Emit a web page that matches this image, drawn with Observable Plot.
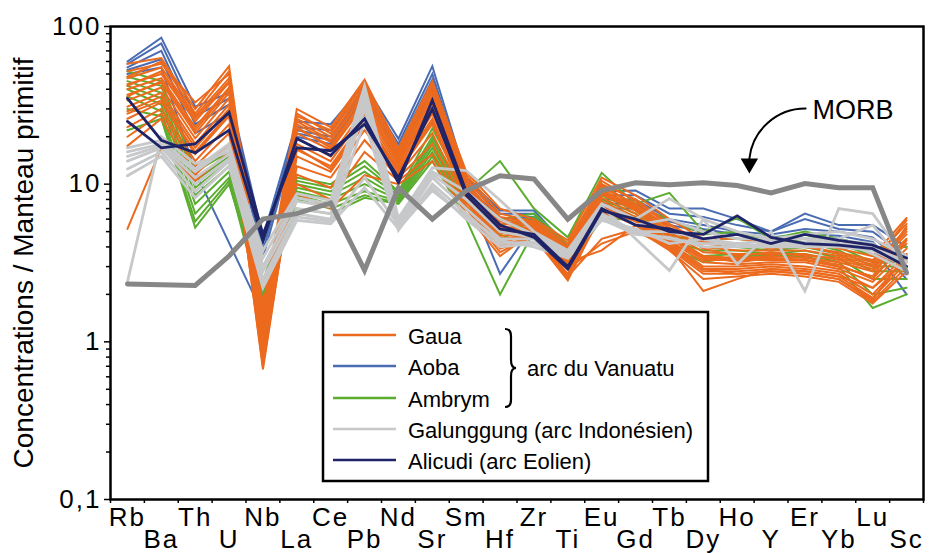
<!DOCTYPE html>
<html>
<head>
<meta charset="utf-8">
<script src="https://cdn.jsdelivr.net/npm/d3@7"></script>
<script src="https://cdn.jsdelivr.net/npm/@observablehq/plot@0.6"></script>
<style>
  body { margin: 0; background: #fff; font-family: "Liberation Sans", Arial, sans-serif; }
  #wrap { position: relative; width: 933px; height: 553px; }
  #wrap svg.plot { position: absolute; left: 0; top: 0; }
  g[aria-label="x-axis tick label"] text { letter-spacing: 2px; }
  g[aria-label="y-axis tick label"] text { letter-spacing: 2px; }
  #legend { position: absolute; left: 0; top: 0; pointer-events: none; }
</style>
</head>
<body>
<div id="wrap"></div>
<script>
// ---- categories / tick labels ----
const elements = ["Rb","Ba","Th","U","Nb","La","Ce","Pb","Nd","Sr","Sm","Hf","Zr","Ti","Eu","Gd","Tb","Dy","Ho","Y","Er","Yb","Lu","Sc"];
const yTicks = [0.1, 1, 10, 100];
const yTickLabels = ["0,1", "1", "10", "100"];
const yMinorTicks = [0.2,0.3,0.4,0.5,0.6,0.7,0.8,0.9, 2,3,4,5,6,7,8,9, 20,30,40,50,60,70,80,90];
const xBoundaries = [-0.5,0.5,1.5,2.5,3.5,4.5,5.5,6.5,7.5,8.5,9.5,10.5,11.5,12.5,13.5,14.5,15.5,16.5,17.5,18.5,19.5,20.5,21.5,22.5,23.5];

// ---- series values (normalised to primitive mantle), order = elements ----
const gaua = [
  [58, 63, 30, 56, 1.6, 30, 23, 46, 17, 45, 12, 7, 6, 4.4, 11, 8.5, 6, 4.5, 4.5, 4.2, 4.3, 3.9, 3.5, 6.1],
  [52, 58, 33, 50, 1.4, 28, 21, 42, 16.5, 42, 11.5, 6.5, 5.8, 4.2, 10, 8, 5.6, 4.2, 4.0, 4.0, 4.0, 3.7, 3.3, 5.6],
  [47, 55, 27, 47, 1.2, 26, 20, 40, 16, 40, 11, 6, 5.6, 3.9, 9.5, 7.5, 5.3, 4.0, 3.8, 3.8, 3.8, 3.5, 3.1, 5.2],
  [43, 50, 25, 44, 1.1, 24, 18.5, 37, 15, 38, 10.5, 5.6, 5.4, 3.7, 9.2, 7.2, 5.0, 3.7, 3.6, 3.6, 3.6, 3.3, 2.9, 4.8],
  [40, 47, 23, 41, 1.0, 22.5, 17.5, 35, 14.5, 35, 10, 5.3, 5.3, 3.5, 9, 7, 4.8, 3.5, 3.4, 3.5, 3.4, 3.2, 2.8, 4.5],
  [37, 44, 21, 38, 0.9, 21, 16.5, 32, 14, 33, 9.5, 5.1, 5.2, 3.3, 8.6, 6.8, 4.6, 3.3, 3.3, 3.3, 3.3, 3.0, 2.6, 4.2],
  [34, 41, 19.5, 35, 0.85, 19.5, 15, 30, 13.5, 30, 9, 4.9, 5.0, 3.1, 8.2, 6.5, 4.4, 3.2, 3.1, 3.2, 3.2, 2.9, 2.4, 3.9],
  [31, 38, 18, 32, 0.8, 18, 14, 28, 13, 28, 8.7, 4.7, 4.9, 2.9, 7.8, 6.2, 4.3, 3.0, 3.0, 3.1, 3.0, 2.8, 2.2, 3.6],
  [29, 36, 17, 30, 0.67, 16.5, 13, 26, 12.5, 26, 8.3, 4.5, 4.8, 2.7, 7.5, 6, 4.2, 2.9, 2.9, 3.0, 2.9, 2.7, 2.0, 3.4],
  [26, 33, 15.5, 27, 0.75, 15, 12, 24, 12, 24, 8, 4.3, 4.7, 2.6, 7.2, 5.8, 4.0, 2.8, 2.8, 2.9, 2.8, 2.6, 1.9, 3.2],
  [23, 30, 14, 24, 0.95, 13, 11, 22, 11.5, 21, 7.7, 4.1, 4.6, 2.45, 6.8, 5.5, 3.9, 2.7, 2.7, 2.8, 2.7, 2.5, 1.8, 3.0],
  [20, 28, 13, 21, 1.3, 11.5, 9.5, 19, 11, 18, 7.3, 3.9, 4.6, 2.6, 4.5, 5.2, 3.8, 2.5, 2.6, 2.7, 2.6, 2.4, 1.75, 2.8],
  [17.5, 26, 11.5, 18, 1.8, 10, 8, 16, 10.5, 15.5, 7, 3.7, 4.8, 2.9, 4.2, 5, 4.0, 2.1, 2.5, 2.9, 2.8, 2.6, 2.2, 3.3],
  [5.2, 17, 10.5, 16, 2.2, 8.7, 7, 11.4, 10, 14, 6.5, 3.5, 5.0, 3.2, 3.8, 5.5, 4.2, 3.5, 3.2, 3.4, 3.3, 3.0, 2.6, 5.4],
  [48, 60, 28, 52, 1.5, 27, 22, 44, 15.5, 43, 10.8, 6.2, 5.7, 4.0, 10.5, 7.8, 5.5, 4.3, 4.2, 3.9, 4.1, 3.6, 3.2, 5.9],
  [42, 52, 26, 45, 1.15, 25, 19, 38, 14.8, 36, 9.8, 5.8, 5.5, 3.8, 9.8, 7.4, 5.2, 3.9, 3.5, 3.7, 3.5, 3.4, 3.0, 5.0],
  [36, 45, 22, 40, 0.95, 23, 17, 33, 13.8, 31, 9.2, 5.4, 5.1, 3.4, 8.8, 6.9, 4.7, 3.4, 3.4, 3.4, 3.3, 3.1, 2.5, 4.4],
  [28, 34, 16, 28, 0.7, 17, 12.5, 25, 12.2, 25, 8.5, 4.4, 4.7, 2.5, 6.5, 5.9, 4.1, 2.9, 2.7, 2.8, 2.7, 2.5, 1.85, 3.6]
];
const aoba = [
  [60, 85, 31, 38, 4.6, 25, 24, 43, 19.4, 56, 11, 6.8, 6.8, 4.0, 9, 9.1, 7, 7, 6, 5, 6.5, 5.5, 5.5, 4],
  [58, 78, 27, 35, 4.2, 23, 22, 40, 18, 50, 10.5, 6.5, 6.5, 3.8, 8.5, 8.5, 6.5, 6.2, 5.5, 5, 6, 5.2, 5, 3.5],
  [55, 70, 24, 32, 3.8, 22, 20, 38, 17, 46, 10, 6, 6.2, 3.6, 8, 8, 6, 5.5, 5, 4.8, 5.2, 5, 4.6, 3],
  [53, 62, 21, 28, 3.4, 21, 19, 36, 16, 42, 9.5, 5.5, 6, 3.4, 7.5, 7.5, 5.8, 5.2, 4.8, 4.6, 4.8, 4.7, 4.3, 2.5],
  [50, 55, 12, null, 1.5, 20, 18, 35, 15, 40, 9, 2.7, 5.5, 3.2, 7, 7, 5.5, 5, 4.5, 4.5, 4.5, 4.5, 4, 2.0]
];
const ambrym = [
  [52, 45, 12, 16, 2.4, 11, 10, 14, 9, 22.5, 9, 14, 7, 4.6, 11.8, 7.5, 8.8, 5, 6.1, 4.5, 5, 4.5, 4, 4],
  [48, 42, 10.5, 15, 2.2, 10.5, 9.5, 13, 8.8, 20, 8.5, 6, 6.5, 4.2, 10, 7.2, 6, 4.8, 5, 4.3, 4.8, 4.2, 3.5, 3.5],
  [45, 38, 9.5, 14, 2.1, 10, 9, 12, 8.5, 19, 8, 5.5, 6.2, 4, 9, 7, 5, 4.5, 4.5, 4.2, 4.5, 4, 3.2, 3.2],
  [42, 35, 8.5, 13, 2.0, 9.5, 8.5, 11, 8.2, 18, 7.6, 5, 6, 3.8, 8.5, 6.8, 4.8, 4.2, 4.2, 4, 4.3, 3.8, 3, 3],
  [40, 32, 7.5, 12, 1.9, 9, 8, 10, 8, 17, 7.2, 4.8, 5.8, 3.6, 8, 6.5, 4.6, 4, 4, 3.8, 4, 3.6, 2.8, 2.8],
  [36, 29, 6.5, 11, 1.7, 8.5, 7.5, 9, 7.8, 16, 7, 4.5, 5.5, 3.4, 7, 6.2, 4.4, 3.8, 3.8, 3.6, 3.8, 3.4, 2.5, 2.5],
  [30, 27, 5.8, 10.5, 1.6, 8, 7, 8.5, 7.6, 15, 6.5, 4.2, 5.2, 3.2, 6.5, 6, 4.2, 3.5, 3.6, 3.5, 3.6, 3.2, 2.0, 2.2],
  [22, 26, 5.3, 10, 2.0, 7, 6.5, 8.2, 7.5, 14, 6, 2.0, 5, 3, 6, 6, 4, 3.2, 3.5, 3.5, 3.5, 3, 1.64, 2]
];
const galunggung = [
  [2.4, 20, 13.5, 16, 3.8, 8.7, 7.9, 42, 6.1, 12.7, 12.2, 7.9, 5, 3.8, 7.5, 6, 8.1, 6, 3.1, 5, 2.1, 7, 6.5, 3.3],
  [17, 19, 12.5, 18, 3.4, 8.2, 7.5, 38, 5.8, 12, 9, 6, 4.8, 3.7, 7.2, 4.5, 2.83, 6, 5, 4.5, 4.5, 4.5, 5.5, 3],
  [16, 18, 12, 17, 3.0, 7.8, 7.2, 34, 5.6, 11.5, 8, 5, 4.6, 3.6, 7, 5.5, 6, 5, 4.5, 4.5, 4.8, 5, 4.5, 3.5],
  [15, 17.5, 11, 15.5, 2.8, 7, 6.5, 30, 5.3, 11, 7, 4.5, 4.5, 3.5, 6.5, 5, 5, 4.5, 4, 4.2, 4.2, 4.2, 4, 3.2],
  [14, 17, 10, 14.5, 2.5, 6.5, 6, 25, 5.1, 10, 6.5, 4.2, 4.3, 3.4, 6.2, 5, 4.5, 4.2, 4.2, 4, 4, 4, 3.8, 3],
  [12.5, 16, 9, 14, 2.3, 6.2, 5.8, 11, 5.5, 9.5, 6, 4, 4.2, 3.5, 6, 4.8, 4.6, 4, 4, 4, 4.3, 4.5, 3.6, 2.8],
  [11.3, 15, 8.2, 13, 2.2, 5.9, 5.6, 9.5, 5.2, 9.1, 6.2, 4.4, 4, 3.4, 5.9, 5.2, 4.2, 4.5, 4.2, 4.4, 4, 4.4, 4.2, 3]
];
const alicudi = [
  [35, 19, 15.8, 22, 4.4, 19.5, 15.2, 26, 10.2, 34, 9, 5.5, 4.6, 2.9, 6.8, 6, 5, 4.8, 6.3, 4.6, 4.2, 4.1, 3.9, 3],
  [25, 17, 18, 28.5, 4.8, 17, 16.3, 24, 11, 30, 8.5, 5.2, 4.8, 3.0, 7, 5.5, 5.2, 4.5, 4.8, 4.2, 4.8, 4.4, 4.1, 3.4]
];
const morb = [2.33, 2.3, 2.28, 3.5, 6.0, 6.5, 7.6, 2.85, 9.5, 6.0, 9.1, 11.3, 10.8, 6.0, 9.1, 10.2, 9.9, 10.2, 9.8, 8.8, 10.1, 9.5, 9.5, 2.74];

// ---- legend / annotation labels ----
const groupNames = ["Gaua", "Aoba", "Ambrym", "Galunggung (arc Indonésien)", "Alicudi (arc Eolien)"];
const groupColors = ["#ec6a1e", "#4a6cb3", "#5bad2f", "#c7c8ca", "#1f2468"];
const morbColor = "#878787";

// ---- build tidy rows ----
function toRows(group, samples) {
  const out = [];
  samples.forEach((s, k) => s.forEach((v, i) => {
    if (v != null) out.push({ group, sample: group + "-" + k, i, v });
  }));
  return out;
}
const rowsGaua = toRows("Gaua", gaua);
const rowsAoba = toRows("Aoba", aoba);
const rowsAmbrym = toRows("Ambrym", ambrym);
const rowsGal = toRows("Galunggung", galunggung);
const rowsAli = toRows("Alicudi", alicudi);
const rowsMorb = toRows("MORB", [morb]);

const evenIdx = elements.map((_, i) => i).filter(i => i % 2 === 0);
const oddIdx = elements.map((_, i) => i).filter(i => i % 2 === 1);

const lineOpts = (color, w) => ({ x: "i", y: "v", z: "sample", stroke: color, strokeWidth: w, strokeLinejoin: "miter", strokeMiterlimit: 4 });

const chart = Plot.plot({
  width: 933,
  height: 553,
  marginLeft: 110,
  marginRight: 10,
  marginTop: 26,
  marginBottom: 54,
  x: { type: "linear", domain: [-0.5, 23.5], axis: null },
  y: { type: "log", domain: [0.1, 100], axis: null },
  style: { fontFamily: "'Liberation Sans', Arial, sans-serif", background: "white", color: "black" },
  marks: [
    Plot.line(rowsAoba, lineOpts(groupColors[1], 2)),
    Plot.line(rowsAmbrym, lineOpts(groupColors[2], 2)),
    Plot.line(rowsGaua, lineOpts(groupColors[0], 2)),
    Plot.line(rowsGal, lineOpts(groupColors[3], 2.8)),
    Plot.line(rowsAli, lineOpts(groupColors[4], 2.8)),
    Plot.line(rowsMorb, lineOpts(morbColor, 5)),
    Plot.frame({ stroke: "black", strokeWidth: 2.5 }),
    Plot.axisY({ ticks: yMinorTicks, tickSize: 4, tickFormat: () => "", strokeWidth: 1.5 }),
    Plot.axisY({ ticks: yTicks, tickSize: 6, tickPadding: 3, strokeWidth: 1.5,
                 tickFormat: d => yTickLabels[yTicks.indexOf(d)], fontSize: 26 }),
    Plot.axisX({ ticks: xBoundaries, tickSize: 4, tickFormat: () => "", strokeWidth: 1.5 }),
    Plot.axisX({ ticks: evenIdx, tickSize: 0, tickPadding: 8, tickFormat: i => elements[i], fontSize: 26 }),
    Plot.axisX({ ticks: oddIdx, tickSize: 0, tickPadding: 30, tickFormat: i => elements[i], fontSize: 26 }),
    Plot.text(["Concentrations / Manteau primitif"], {
      text: d => d, frameAnchor: "left", textAnchor: "middle", rotate: -90, dx: -86,
      fontSize: 28, lineAnchor: "middle", fill: "black"
    }),
    // MORB annotation
    Plot.text([{ x: 20.22, y: 29.3, t: "MORB" }], {
      x: "x", y: "y", text: "t", textAnchor: "start", lineAnchor: "middle", fontSize: 27, fill: "black"
    }),
    Plot.arrow([{ x1: 20.02, y1: 30.2, x2: 18.36, y2: 14.55 }], {
      x1: "x1", y1: "y1", x2: "x2", y2: "y2", bend: -42, headLength: 0, stroke: "black", strokeWidth: 2
    }),
    Plot.dot([{ x: 18.36, y: 13.52 }], {
      x: "x", y: "y", symbol: "triangle", rotate: 180, r: 6.5, fill: "black", stroke: "none"
    })
  ]
});

const wrap = document.getElementById("wrap");
wrap.appendChild(chart);

// ---- legend box (inside plot area) ----
const leg = d3.select(wrap).append("svg")
  .attr("id", "legend").attr("width", 933).attr("height", 553)
  .style("font-family", "'Liberation Sans', Arial, sans-serif");
leg.append("rect").attr("x", 323).attr("y", 312).attr("width", 385).attr("height", 169)
  .attr("fill", "white").attr("stroke", "black").attr("stroke-width", 2.5);
const rowY = [335, 366, 398, 429, 460];
groupNames.forEach((name, k) => {
  leg.append("line").attr("x1", 333).attr("x2", 396).attr("y1", rowY[k]).attr("y2", rowY[k])
    .attr("stroke", groupColors[k]).attr("stroke-width", 2.5);
  leg.append("text").attr("x", 408).attr("y", rowY[k] + 9).attr("font-size", 22)
    .attr("fill", "black").text(name);
});
leg.append("path")
  .attr("d", "M505,329 q6,0 6,7 v24 q0,8 5,8 q-5,0 -5,8 v24 q0,7 -6,7")
  .attr("fill", "none").attr("stroke", "black").attr("stroke-width", 2.2);
leg.append("text").attr("x", 527).attr("y", 376).attr("font-size", 22).attr("fill", "black")
  .text("arc du Vanuatu");
</script>
</body>
</html>
